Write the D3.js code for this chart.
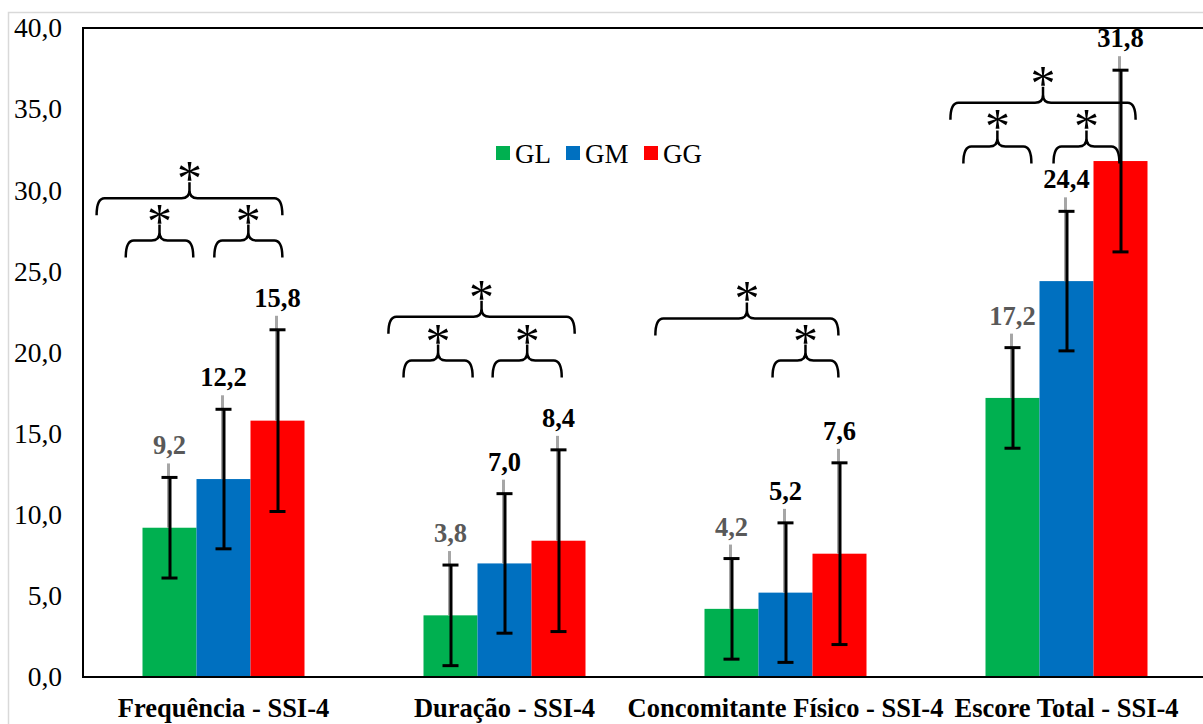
<!DOCTYPE html>
<html>
<head>
<meta charset="UTF-8" />
<title>SSI-4 por grupo</title>
<script src="https://d3js.org/d3.v7.min.js"></script>
<style>
  body { margin: 0; background: #fff; }
  svg { display: block; font-family: "Liberation Serif", "Times New Roman", serif; }
</style>
</head>
<body>
<svg id="chart"></svg>
<script>
  // data
  const categories = ["Frequência - SSI-4", "Duração - SSI-4", "Concomitante Físico - SSI-4", "Escore Total - SSI-4"];
  const groups = ["GL", "GM", "GG"];
  const glMean = [9.2, 3.8, 4.2, 17.2];
  const gmMean = [12.2, 7.0, 5.2, 24.4];
  const ggMean = [15.8, 8.4, 7.6, 31.8];
  const glErr = [3.1, 3.1, 3.1, 3.1];
  const gmErr = [4.3, 4.3, 4.3, 4.3];
  const ggErr = [5.6, 5.6, 5.6, 5.6];
  const yTicks = [0, 5, 10, 15, 20, 25, 30, 35, 40];

  // significance braces: category index, span in bar widths from group centre, level on y axis
  const braceCat  = [0, 0, 0, 1, 1, 1, 2, 2, 3, 3, 3];
  const braceFrom = [-2.35, -1.81, -0.17, -2.15, -1.87, -0.22, -2.41, -0.24, -2.15, -1.91, -0.24];
  const braceTo   = [1.09, -0.56, 1.09, 1.30, -0.59, 1.06, 0.98, 0.98, 1.28, -0.65, 0.98];
  const braceY    = [29.5, 26.9, 26.9, 22.2, 19.5, 19.5, 22.1, 19.5, 35.4, 32.7, 32.7];

  const colors = { GL: "#00B050", GM: "#0070C0", GG: "#FF0000" };
  const labelColors = { GL: "#595959", GM: "#000", GG: "#000" };

  const W = 1203, H = 724;
  const margin = { left: 83, top: 28, bottom: 677 };
  const svg = d3.select("#chart").attr("width", W).attr("height", H);

  // light outer frame
  svg.append("rect")
    .attr("x", 8.5).attr("y", 12.5)
    .attr("width", W).attr("height", H)
    .attr("fill", "none").attr("stroke", "#d9d9d9").attr("stroke-width", 1.5);

  const x = d3.scaleBand().domain(categories).range([margin.left, margin.left + 4 * 281]);
  const barW = 54;
  const x1 = d3.scaleBand().domain(groups).range([-1.5 * barW, 1.5 * barW]);
  const y = d3.scaleLinear().domain([0, 40]).range([margin.bottom, margin.top]);
  const fmt = v => d3.format(".1f")(v).replace(".", ",");

  const rows = [];
  categories.forEach((c, i) => {
    rows.push({ cat: c, g: "GL", v: glMean[i], e: glErr[i] });
    rows.push({ cat: c, g: "GM", v: gmMean[i], e: gmErr[i] });
    rows.push({ cat: c, g: "GG", v: ggMean[i], e: ggErr[i] });
  });
  const cx = d => x(d.cat) + x.bandwidth() / 2 + x1(d.g) + barW / 2;

  // y axis labels
  svg.append("g")
    .attr("transform", `translate(${margin.left},0)`)
    .call(d3.axisLeft(y).tickValues(yTicks).tickFormat(fmt).tickSize(0).tickPadding(21))
    .call(g => g.select(".domain").remove())
    .selectAll("text")
      .attr("font-family", "Liberation Serif")
      .attr("font-size", 27.5)
      .attr("fill", "#000");

  // bars
  svg.append("g").selectAll("rect")
    .data(rows).enter().append("rect")
    .attr("x", d => x(d.cat) + x.bandwidth() / 2 + x1(d.g))
    .attr("y", d => y(d.v))
    .attr("width", barW)
    .attr("height", d => y(0) - y(d.v))
    .attr("fill", d => colors[d.g]);

  // gray leader lines from label to bar top
  svg.append("g").selectAll("line")
    .data(rows).enter().append("line")
    .attr("x1", d => cx(d) - 1).attr("x2", d => cx(d) - 1)
    .attr("y1", d => y(d.v + d.e) - 14)
    .attr("y2", d => y(d.v))
    .attr("stroke", "#a6a6a6").attr("stroke-width", 3);

  // error bars
  const eb = svg.append("g").attr("stroke", "#000").attr("stroke-width", 3);
  eb.selectAll("line.stem")
    .data(rows).enter().append("line").attr("class", "stem")
    .attr("x1", d => cx(d) + 0.5).attr("x2", d => cx(d) + 0.5)
    .attr("y1", d => y(d.v + d.e)).attr("y2", d => y(d.v - d.e));
  eb.selectAll("line.capT")
    .data(rows).enter().append("line").attr("class", "capT")
    .attr("x1", d => cx(d) - 8).attr("x2", d => cx(d) + 8)
    .attr("y1", d => y(d.v + d.e)).attr("y2", d => y(d.v + d.e));
  eb.selectAll("line.capB")
    .data(rows).enter().append("line").attr("class", "capB")
    .attr("x1", d => cx(d) - 8).attr("x2", d => cx(d) + 8)
    .attr("y1", d => y(d.v - d.e)).attr("y2", d => y(d.v - d.e));

  // value labels
  svg.append("g").selectAll("text")
    .data(rows).enter().append("text")
    .attr("x", d => cx(d))
    .attr("y", d => y(d.v + d.e) - 23)
    .attr("text-anchor", "middle")
    .attr("font-size", 26.5).attr("font-weight", "bold")
    .attr("fill", d => labelColors[d.g])
    .text(d => fmt(d.v));

  // plot frame: left, top, bottom
  const frame = svg.append("g").attr("stroke", "#000").attr("stroke-width", 2).attr("fill", "none");
  frame.append("path")
    .attr("d", `M${W},${y(40)} H${margin.left} V${y(0)} H${W}`);

  // category labels
  svg.append("g").selectAll("text")
    .data(categories).enter().append("text")
    .attr("x", d => x(d) + x.bandwidth() / 2)
    .attr("y", 717)
    .attr("text-anchor", "middle")
    .attr("font-size", 26.5).attr("font-weight", "bold")
    .text(d => d);

  // braces with asterisks
  const drop = 17, tip = 16, r = 8;
  const bg = svg.append("g");
  braceCat.forEach((ci, i) => {
    const c = x(categories[ci]) + x.bandwidth() / 2;
    const xa = c + braceFrom[i] * barW, xb = c + braceTo[i] * barW;
    const xm = (xa + xb) / 2, yy = y(braceY[i]);
    const p = d3.path();
    p.moveTo(xa, yy + drop);
    p.quadraticCurveTo(xa, yy, xa + r, yy);
    p.lineTo(xm - r, yy);
    p.quadraticCurveTo(xm, yy, xm, yy - r);
    p.lineTo(xm, yy - tip);
    p.moveTo(xm, yy - r);
    p.quadraticCurveTo(xm, yy, xm + r, yy);
    p.lineTo(xb - r, yy);
    p.quadraticCurveTo(xb, yy, xb, yy + drop);
    bg.append("path").attr("d", p.toString())
      .attr("fill", "none").attr("stroke", "#000").attr("stroke-width", 2.5);
    bg.append("text")
      .attr("x", xm).attr("y", yy - 3)
      .attr("text-anchor", "middle")
      .attr("font-size", 50)
      .text("*");
  });

  // legend
  const lg = svg.append("g");
  const legX = [496, 566, 644];
  groups.forEach((g, i) => {
    lg.append("rect").attr("x", legX[i]).attr("y", 146).attr("width", 14).attr("height", 14).attr("fill", colors[g]);
    lg.append("text").attr("x", legX[i] + 19).attr("y", 163).attr("font-size", 27).text(g);
  });
</script>
</body>
</html>
